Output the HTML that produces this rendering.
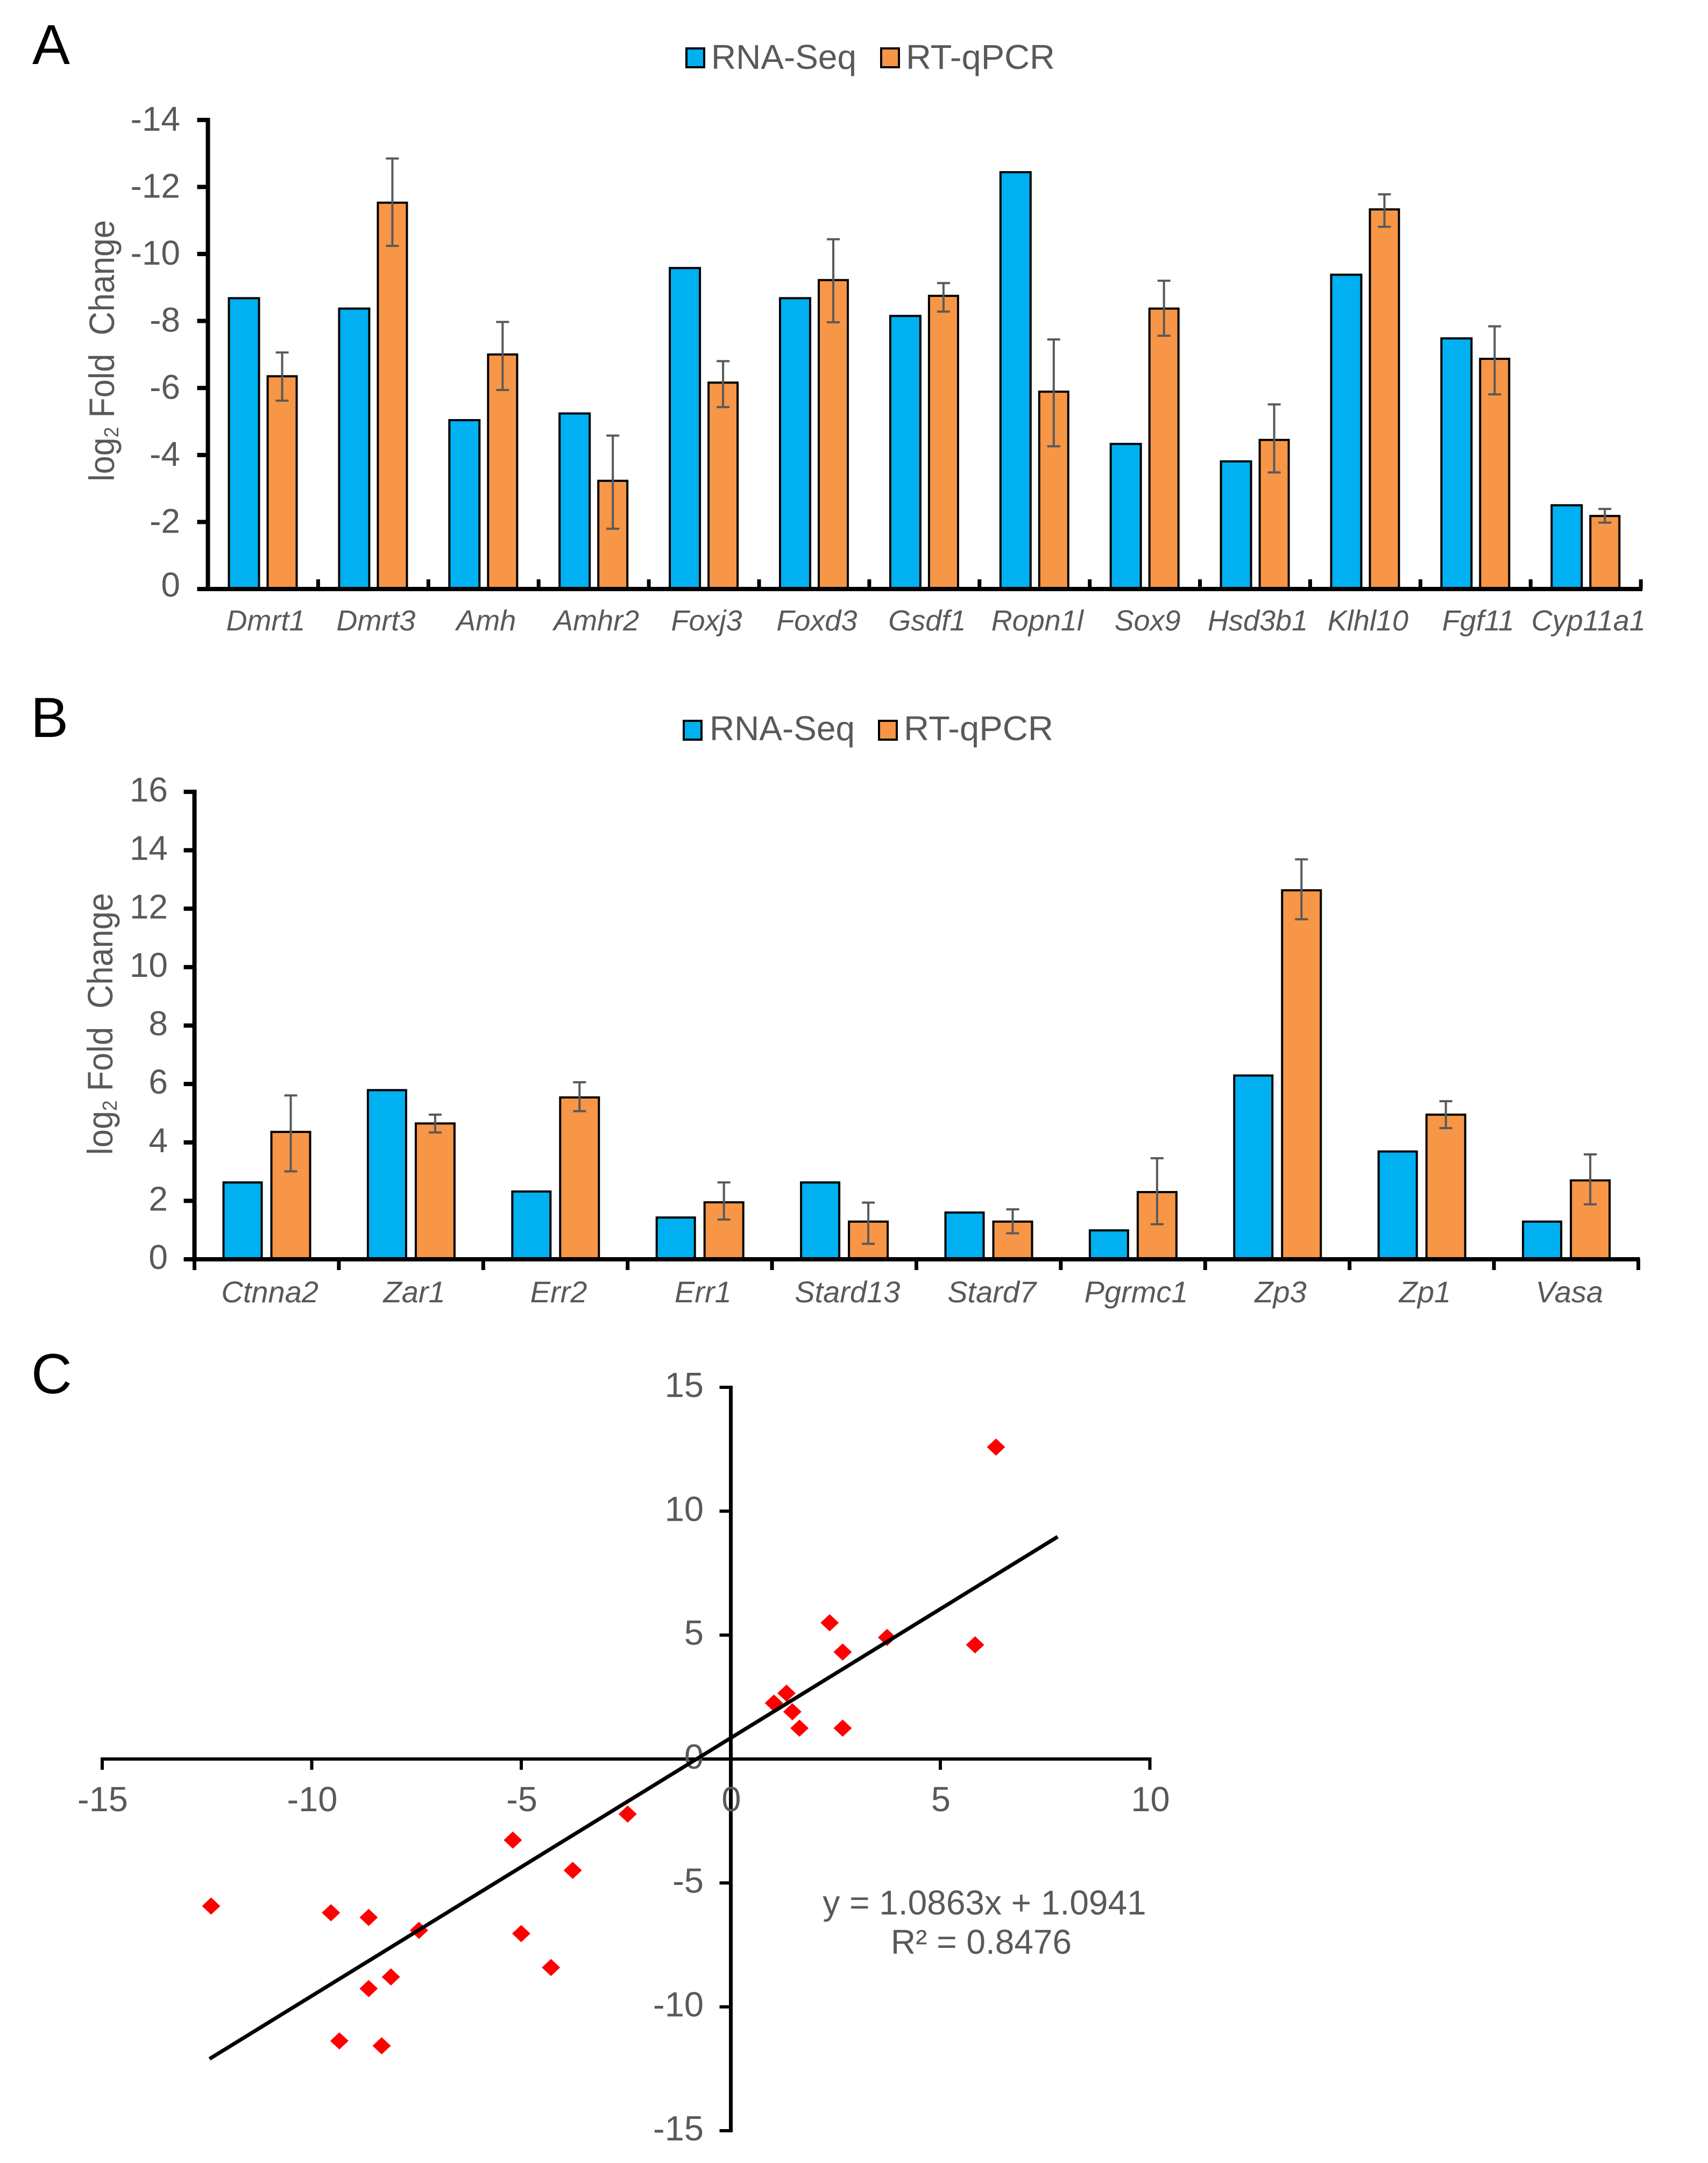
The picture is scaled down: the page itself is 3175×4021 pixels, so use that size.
<!DOCTYPE html>
<html lang="en">
<head>
<meta charset="utf-8">
<title>RNA-Seq and RT-qPCR comparison</title>
<style>
html,body{margin:0;padding:0;background:#fff;}
svg{display:block;font-family:"Liberation Sans",Arial,sans-serif;}
text{white-space:pre;}
.tick{font-size:64px;fill:#595959;}
.tick-c{font-size:65px;fill:#595959;}
.cat{font-style:italic;fill:#595959;text-anchor:middle;}
.leg{font-size:64px;fill:#595959;}
.title{font-size:66px;fill:#595959;}
.panel{font-size:105px;fill:#000;}
</style>
</head>
<body>
<svg id="figure" xmlns="http://www.w3.org/2000/svg" width="3175" height="4021" viewBox="0 0 3175 4021">
  <rect x="0" y="0" width="3175" height="4021" fill="#fff"/>

  <text class="panel" x="60" y="119">A</text>
  <text class="panel" x="57" y="1370">B</text>
  <text class="panel" x="58" y="2590">C</text>

  <g>
    <rect x="1276" y="90" width="33" height="35" fill="#00B0F0" stroke="#000" stroke-width="4"/>
    <text class="leg" x="1322" y="128" textLength="270" lengthAdjust="spacingAndGlyphs">RNA-Seq</text>
    <rect x="1638" y="90" width="33" height="35" fill="#F79646" stroke="#000" stroke-width="4"/>
    <text class="leg" x="1684" y="128" textLength="277" lengthAdjust="spacingAndGlyphs">RT-qPCR</text>
  </g>
  <g>
    <rect x="1271" y="1340" width="33" height="35" fill="#00B0F0" stroke="#000" stroke-width="4"/>
    <text class="leg" x="1319" y="1376" textLength="270" lengthAdjust="spacingAndGlyphs">RNA-Seq</text>
    <rect x="1634" y="1340" width="33" height="35" fill="#F79646" stroke="#000" stroke-width="4"/>
    <text class="leg" x="1680" y="1376" textLength="278" lengthAdjust="spacingAndGlyphs">RT-qPCR</text>
  </g>

  <text class="title" transform="translate(212,895) rotate(-90)" textLength="486" lengthAdjust="spacingAndGlyphs">log<tspan font-size="38" dy="8">2</tspan><tspan dy="-8"> Fold  Change</tspan></text>
  <text class="title" transform="translate(209,2147) rotate(-90)" textLength="487" lengthAdjust="spacingAndGlyphs">log<tspan font-size="38" dy="8">2</tspan><tspan dy="-8"> Fold  Change</tspan></text>

  <g id="chart-a"></g>
  <g id="chart-b"></g>
  <g id="chart-c"></g>

  <text class="leg" x="1830" y="3559" text-anchor="middle">y = 1.0863x + 1.0941</text>
  <text class="leg" x="1824" y="3632" text-anchor="middle">R² = 0.8476</text>
</svg>

<script>
// Panel A data
const genesA = ['Dmrt1','Dmrt3','Amh','Amhr2','Foxj3','Foxd3','Gsdf1','Ropn1l','Sox9','Hsd3b1','Klhl10','Fgf11','Cyp11a1'];
const rnaSeqA = [-8.68,-8.37,-5.04,-5.24,-9.58,-8.68,-8.15,-12.44,-4.33,-3.81,-9.38,-7.48,-2.50];
const qpcrA = [-6.35,-11.53,-7.00,-3.23,-6.16,-9.22,-8.75,-5.89,-8.37,-4.45,-11.33,-6.87,-2.18];
const qpcrErrFarA = [-7.06,-12.85,-7.97,-4.58,-6.80,-10.44,-9.13,-7.45,-9.20,-5.51,-11.78,-7.84,-2.39];
const qpcrErrNearA = [-5.62,-10.24,-5.94,-1.80,-5.43,-7.96,-8.28,-4.26,-7.56,-3.48,-10.81,-5.81,-1.98];
const yTicksA = [-14,-12,-10,-8,-6,-4,-2,0];

// Panel B data
const genesB = ['Ctnna2','Zar1','Err2','Err1','Stard13','Stard7','Pgrmc1','Zp3','Zp1','Vasa'];
const rnaSeqB = [2.63,5.79,2.32,1.43,2.63,1.60,0.99,6.29,3.69,1.29];
const qpcrB = [4.36,4.65,5.54,1.95,1.29,1.29,2.30,12.63,4.95,2.70];
const qpcrErrHighB = [5.61,4.95,6.06,2.63,1.94,1.71,3.46,13.69,5.41,3.59];
const qpcrErrLowB = [3.01,4.34,5.07,1.36,0.53,0.89,1.20,11.64,4.49,1.88];
const yTicksB = [0,2,4,6,8,10,12,14,16];

// Panel C data
const scatterX = [-8.68,-8.37,-5.04,-5.24,-9.58,-8.68,-8.15,-12.44,-4.33,-3.81,-9.38,-7.48,-2.50,2.63,5.79,2.32,1.43,2.63,1.60,0.99,6.29,3.69,1.29];
const scatterY = [-6.35,-11.53,-7.00,-3.23,-6.16,-9.22,-8.75,-5.89,-8.37,-4.45,-11.33,-6.87,-2.18,4.36,4.65,5.54,1.95,1.29,1.29,2.30,12.63,4.95,2.70];
const trendX = [-12.44,7.8];
const trendY = [-12.1,8.97];
const xTicksC = [-15,-10,-5,0,5,10];
const yTicksC = [15,10,5,0,-5,-10,-15];

const NS = 'http://www.w3.org/2000/svg';
function mk(tag, attrs, parent, txt) {
  const el = document.createElementNS(NS, tag);
  for (const k in attrs) el.setAttribute(k, attrs[k]);
  if (txt !== undefined) el.textContent = txt;
  parent.appendChild(el);
  return el;
}

const BLUE = '#00B0F0', ORANGE = '#F79646', GREY = '#595959';

function drawBars(cfg) {
  const g = document.getElementById(cfg.id);
  const y0 = cfg.y(0);
  cfg.genes.forEach(function (gene, i) {
    const left = cfg.x0 + cfg.step * i;
    const topB = cfg.y(cfg.rna[i]);
    const b = mk('rect', {x: left + cfg.blueOff, y: topB, width: cfg.blueW, height: y0 - topB, fill: BLUE, stroke: '#000', 'stroke-width': 4}, g);
    
    
    const topO = cfg.y(cfg.qpcr[i]);
    const o = mk('rect', {x: left + cfg.orangeOff, y: topO, width: cfg.orangeW, height: y0 - topO, fill: ORANGE, stroke: '#000', 'stroke-width': 4}, g);
    
    
    const cx = left + cfg.orangeOff + cfg.orangeW / 2;
    const e1 = cfg.y(cfg.errA[i]), e2 = cfg.y(cfg.errB[i]);
    const err = mk('path', {d: 'M' + cx + ' ' + e1 + 'V' + e2 + 'M' + (cx - 12) + ' ' + e1 + 'H' + (cx + 12) + 'M' + (cx - 12) + ' ' + e2 + 'H' + (cx + 12), fill: 'none', stroke: GREY, 'stroke-width': 4}, g);
    
    
    const lab = mk('text', {class: 'cat', 'font-size': cfg.labelSize, x: left + cfg.step / 2 + cfg.labelDx, y: cfg.labelY}, g, gene);
    
    
  });
  // axes
  const right = cfg.x0 + cfg.step * cfg.genes.length;
  const yAxis = mk('line', {x1: cfg.x0, x2: cfg.x0, y1: cfg.y(cfg.yTop) - 4, y2: y0 + 4, stroke: '#000', 'stroke-width': 8}, g);
  
  
  const xAxis = mk('line', {x1: cfg.x0 - 20, x2: right + 3, y1: y0, y2: y0, stroke: '#000', 'stroke-width': 8}, g);
  
  
  for (let i = 0; i <= cfg.genes.length; i++) {
    const tx = cfg.x0 + cfg.step * i;
    const t = mk('line', {x1: tx, x2: tx, y1: y0, y2: y0 + cfg.xTickLen, stroke: '#000', 'stroke-width': 7}, g);
    
    
  }
  cfg.yTicks.forEach(function (v) {
    const yy = cfg.y(v);
    const t = mk('line', {x1: cfg.x0 - 20, x2: cfg.x0, y1: yy, y2: yy, stroke: '#000', 'stroke-width': 8}, g);
    
    
    const dy = cfg.tickDy(v);
    const lab = mk('text', {class: 'tick', x: cfg.tickRight, y: yy + dy, 'text-anchor': 'end'}, g, String(v));
    
    
  });
}

const yA = function (v) { return 1095 + 62.29 * v; };
const yB = function (v) { return 2341 - 54.31 * v; };

drawBars({id: 'chart-a', genes: genesA, rna: rnaSeqA, qpcr: qpcrA, errA: qpcrErrFarA, errB: qpcrErrNearA,
  y: yA, x0: 386.5, step: 204.9, blueOff: 39, blueW: 56, orangeOff: 111, orangeW: 54, labelDx: 5, labelY: 1172, labelSize: 54,
  yTop: -14, yTicks: yTicksA, xTickLen: -18, tickRight: 335, tickDy: function (v) { return v === 0 ? 14 : 20; }});

drawBars({id: 'chart-b', genes: genesB, rna: rnaSeqB, qpcr: qpcrB, errA: qpcrErrHighB, errB: qpcrErrLowB,
  y: yB, x0: 361.5, step: 268.4, blueOff: 54, blueW: 71, orangeOff: 143, orangeW: 72, labelDx: 6, labelY: 2421, labelSize: 56,
  yTop: 16, yTicks: yTicksB, xTickLen: 20, tickRight: 312, tickDy: function () { return 18; }});

// Panel C
const xC = function (v) { return 1358.5 + 77.9 * v; };
const yC = function (v) { return 3270 - 46.07 * v; };
const gC = document.getElementById('chart-c');

const axisXC = mk('line', {x1: xC(-15) - 3, x2: xC(10) + 3, y1: yC(0), y2: yC(0), stroke: '#000', 'stroke-width': 6}, gC);


const axisYC = mk('line', {x1: xC(0), x2: xC(0), y1: yC(15) - 3, y2: yC(-15) + 3, stroke: '#000', 'stroke-width': 7}, gC);



xTicksC.forEach(function (v) {
  const t = mk('line', {x1: xC(v), x2: xC(v), y1: yC(0), y2: yC(0) + 20, stroke: '#000', 'stroke-width': 6}, gC);
  
  
  const lab = mk('text', {class: 'tick-c', x: xC(v) + 1, y: 3367, 'text-anchor': 'middle'}, gC, String(v));
  
  
});
yTicksC.forEach(function (v) {
  const t = mk('line', {x1: xC(0) - 21, x2: xC(0), y1: yC(v), y2: yC(v), stroke: '#000', 'stroke-width': 6}, gC);
  
  
  const lab = mk('text', {class: 'tick-c', x: 1308, y: yC(v) + 18, 'text-anchor': 'end'}, gC, String(v));
  
  
});

scatterX.forEach(function (xv, i) {
  const px = xC(xv) + 3, py = yC(scatterY[i]) + 2;
  const d = mk('path', {d: 'M' + (px - 17) + ' ' + py + 'L' + px + ' ' + (py - 16) + 'L' + (px + 17) + ' ' + py + 'L' + px + ' ' + (py + 16) + 'Z', fill: '#FF0000'}, gC);
  
  
});

const trend = mk('line', {x1: xC(trendX[0]), y1: yC(trendY[0]), x2: xC(trendX[1]), y2: yC(trendY[1]), stroke: '#000', 'stroke-width': 7}, gC);


</script>
</body>
</html>
